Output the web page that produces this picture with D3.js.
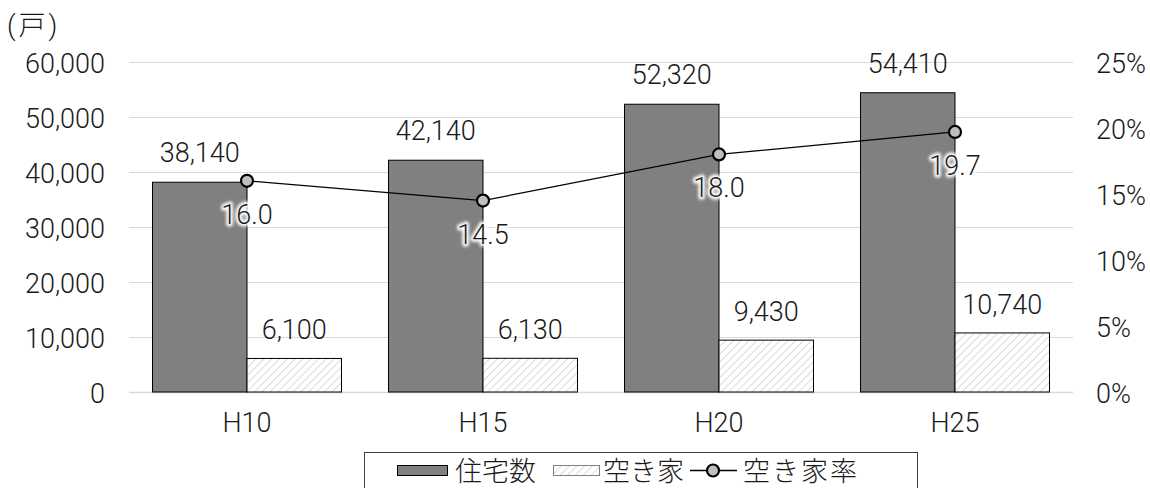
<!DOCTYPE html>
<html lang="ja">
<head>
<meta charset="utf-8">
<script src="https://cdn.jsdelivr.net/npm/d3@7/dist/d3.min.js"></script>
<style>
  html, body { margin: 0; padding: 0; background: #fff; }
  svg { display: block; }
  text { font-family: Roboto, "Noto Sans CJK JP", sans-serif; font-weight: 300; fill: #1a1a1a; }
</style>
</head>
<body>
<svg id="chart" width="1150" height="488"></svg>
<script>
// 住宅数・空き家数・空き家率の推移
const categories = ["H10", "H15", "H20", "H25"];
const housing = [38140, 42140, 52320, 54410];   // 住宅数（戸）
const vacant = [6100, 6130, 9430, 10740];       // 空き家（戸）
const vacancyRate = [16.0, 14.5, 18.0, 19.7];   // 空き家率（%）
const leftTicks = [0, 10000, 20000, 30000, 40000, 50000, 60000];
const rightTicks = [0, 5, 10, 15, 20, 25];
const seriesNames = ["住宅数", "空き家", "空き家率"];
const unitLabel = "(戸)";

const svg = d3.select("#chart");
const fs = 27;
const plot = { left: 129, right: 1073, top: 62, bottom: 392 };

const x = d3.scaleBand().domain(categories).range([plot.left, plot.right]).padding(0);
const yL = d3.scaleLinear().domain([0, 60000]).range([plot.bottom, plot.top]);
const yR = d3.scaleLinear().domain([0, 25]).range([plot.bottom, plot.top]);

const defs = svg.append("defs");
const hatch = defs.append("pattern")
  .attr("id", "hatch").attr("patternUnits", "userSpaceOnUse")
  .attr("width", 5.5).attr("height", 5.5)
  .attr("patternTransform", "rotate(45)");
hatch.append("rect").attr("width", 5.5).attr("height", 5.5).attr("fill", "#fff");
hatch.append("line").attr("x1", 0).attr("y1", 0).attr("x2", 0).attr("y2", 5.5)
  .attr("stroke", "#c4c4c4").attr("stroke-width", 1.2);

const glow = defs.append("filter").attr("id", "glow")
  .attr("x", "-20%").attr("y", "-30%").attr("width", "140%").attr("height", "160%");
glow.append("feGaussianBlur").attr("stdDeviation", 1.6);

// grid lines
svg.append("g").selectAll("line").data(leftTicks).join("line")
  .attr("x1", plot.left).attr("x2", plot.right)
  .attr("y1", d => Math.round(yL(d)) + 0.5).attr("y2", d => Math.round(yL(d)) + 0.5)
  .attr("stroke", "#d9d9d9").attr("stroke-width", d => d === 0 ? 1.5 : 1);

// left axis
const axL = d3.axisLeft(yL).tickValues(leftTicks).tickSize(0).tickPadding(0)
  .tickFormat(d3.format(","));
const gL = svg.append("g").attr("transform", `translate(${105},0)`).call(axL);
gL.select(".domain").remove();
gL.selectAll("text").attr("font-size", fs).attr("font-family", null)
  .attr("dy", null).attr("y", 10.5).attr("fill", "#1a1a1a");

// right axis
const axR = d3.axisRight(yR).tickValues(rightTicks).tickSize(0).tickPadding(0)
  .tickFormat(d => d + "%");
const gR = svg.append("g").attr("transform", `translate(${1096},0)`).call(axR);
gR.select(".domain").remove();
gR.selectAll("text").attr("font-size", fs).attr("font-family", null)
  .attr("dy", null).attr("y", 10.5).attr("fill", "#1a1a1a");

// bottom axis labels
const axB = d3.axisBottom(x).tickSize(0).tickPadding(0);
const gB = svg.append("g").attr("transform", `translate(0,${432})`).call(axB);
gB.select(".domain").remove();
gB.selectAll("text").attr("font-size", fs).attr("font-family", null)
  .attr("dy", null).attr("y", 0).attr("fill", "#1a1a1a");

// bars
const barPad = 23.5;
const barW = (x.bandwidth() - 2 * barPad) / 2;
const bars = svg.append("g");
bars.selectAll("rect.h").data(categories).join("rect").attr("class", "h")
  .attr("x", d => x(d) + barPad).attr("width", barW)
  .attr("y", (d, i) => yL(housing[i])).attr("height", (d, i) => yL(0) - yL(housing[i]))
  .attr("fill", "#808080").attr("stroke", "#000").attr("stroke-width", 1);
bars.selectAll("rect.v").data(categories).join("rect").attr("class", "v")
  .attr("x", d => x(d) + barPad + barW).attr("width", barW)
  .attr("y", (d, i) => yL(vacant[i])).attr("height", (d, i) => yL(0) - yL(vacant[i]))
  .attr("fill", "url(#hatch)").attr("stroke", "#000").attr("stroke-width", 1);

// bar value labels
const fmt = d3.format(",");
svg.append("g").selectAll("text").data(categories).join("text")
  .attr("x", d => x(d) + barPad + barW / 2).attr("y", (d, i) => yL(housing[i]) - 20)
  .attr("text-anchor", "middle").attr("font-size", fs).text((d, i) => fmt(housing[i]));
svg.append("g").selectAll("text").data(categories).join("text")
  .attr("x", d => x(d) + barPad + barW * 1.5).attr("y", (d, i) => yL(vacant[i]) - 19)
  .attr("text-anchor", "middle").attr("font-size", fs).text((d, i) => fmt(vacant[i]));

// vacancy rate line
const cx = d => x(d) + x.bandwidth() / 2;
const line = d3.line().x(d => cx(d)).y((d, i) => yR(vacancyRate[i]));
svg.append("path").datum(categories).attr("d", line)
  .attr("fill", "none").attr("stroke", "#000").attr("stroke-width", 1.3);
svg.append("g").selectAll("circle").data(categories).join("circle")
  .attr("cx", cx).attr("cy", (d, i) => yR(vacancyRate[i])).attr("r", 6)
  .attr("fill", "#bfbfbf").attr("stroke", "#000").attr("stroke-width", 2.2);

// rate labels with soft white halo
const rl = svg.append("g");
rl.selectAll("text.halo").data(categories).join("text").attr("class", "halo")
  .attr("x", cx).attr("y", (d, i) => yR(vacancyRate[i]) + 43)
  .attr("text-anchor", "middle").attr("font-size", fs)
  .style("fill", "#fff").attr("stroke", "#fff").attr("stroke-width", 5)
  .attr("stroke-linejoin", "round").attr("filter", "url(#glow)")
  .text((d, i) => vacancyRate[i].toFixed(1));
rl.selectAll("text.val").data(categories).join("text").attr("class", "val")
  .attr("x", cx).attr("y", (d, i) => yR(vacancyRate[i]) + 43)
  .attr("text-anchor", "middle").attr("font-size", fs)
  .text((d, i) => vacancyRate[i].toFixed(1));

// unit label
svg.append("text").attr("x", 7).attr("y", 35).attr("font-size", fs)
  .attr("letter-spacing", 3).text(unitLabel);

// legend
const lg = svg.append("g");
lg.append("rect").attr("x", 364.5).attr("y", 452.5).attr("width", 553).attr("height", 40)
  .attr("fill", "#fff").attr("stroke", "#404040").attr("stroke-width", 1);
lg.append("rect").attr("x", 397.5).attr("y", 465.5).attr("width", 50).attr("height", 10)
  .attr("fill", "#808080").attr("stroke", "#000").attr("stroke-width", 1);
lg.append("text").attr("x", 455).attr("y", 481).attr("font-size", fs).text(seriesNames[0]);
lg.append("rect").attr("x", 553.5).attr("y", 465.5).attr("width", 46).attr("height", 10)
  .attr("fill", "url(#hatch)").attr("stroke", "#7f7f7f").attr("stroke-width", 1);
lg.append("text").attr("x", 603).attr("y", 481).attr("font-size", fs).text(seriesNames[1]);
lg.append("line").attr("x1", 690).attr("x2", 737).attr("y1", 470.5).attr("y2", 470.5)
  .attr("stroke", "#000").attr("stroke-width", 1.3);
lg.append("circle").attr("cx", 713).attr("cy", 470.5).attr("r", 6)
  .attr("fill", "#bfbfbf").attr("stroke", "#000").attr("stroke-width", 2.2);
lg.append("text").attr("x", 743).attr("y", 481).attr("font-size", fs)
  .attr("letter-spacing", 2).text(seriesNames[2]);
</script>
</body>
</html>
